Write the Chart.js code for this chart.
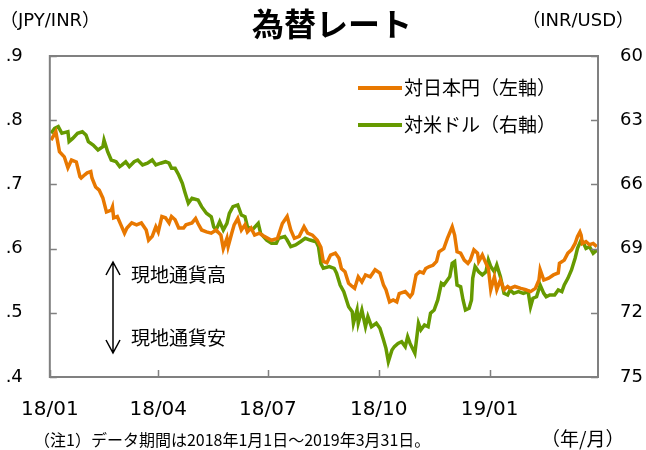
<!DOCTYPE html>
<html><head><meta charset="utf-8">
<script src="https://cdn.jsdelivr.net/npm/chart.js@4.4.1/dist/chart.umd.min.js"></script>
<style>html,body{margin:0;padding:0;background:#fff;overflow:hidden}#wrap{position:relative;width:646px;height:450px}</style>
</head><body><div id="wrap"><canvas id="c" width="646" height="450"></canvas></div>
<script>
// ---- data ----
const jpyDates = ['2018-01-02','2018-01-06','2018-01-09','2018-01-13','2018-01-16','2018-01-19','2018-01-23','2018-01-26','2018-01-27','2018-01-30','2018-02-01','2018-02-04','2018-02-05','2018-02-08','2018-02-11','2018-02-14','2018-02-17','2018-02-21','2018-02-22','2018-02-23','2018-02-26','2018-03-01','2018-03-04','2018-03-06','2018-03-10','2018-03-14','2018-03-18','2018-03-22','2018-03-24','2018-03-27','2018-03-30','2018-04-01','2018-04-04','2018-04-07','2018-04-10','2018-04-12','2018-04-15','2018-04-18','2018-04-22','2018-04-24','2018-04-29','2018-05-02','2018-05-04','2018-05-07','2018-05-11','2018-05-15','2018-05-19','2018-05-23','2018-05-25','2018-05-28','2018-05-29','2018-06-01','2018-06-03','2018-06-06','2018-06-09','2018-06-12','2018-06-14','2018-06-17','2018-06-20','2018-06-24','2018-06-28','2018-07-04','2018-07-09','2018-07-13','2018-07-17','2018-07-20','2018-07-23','2018-07-27','2018-07-31','2018-08-03','2018-08-07','2018-08-11','2018-08-14','2018-08-16','2018-08-19','2018-08-22','2018-08-26','2018-08-29','2018-08-31','2018-09-03','2018-09-06','2018-09-09','2018-09-11','2018-09-14','2018-09-17','2018-09-20','2018-09-24','2018-09-28','2018-10-02','2018-10-05','2018-10-07','2018-10-10','2018-10-13','2018-10-16','2018-10-18','2018-10-23','2018-10-27','2018-10-29','2018-11-01','2018-11-04','2018-11-07','2018-11-09','2018-11-12','2018-11-15','2018-11-18','2018-11-20','2018-11-24','2018-11-27','2018-12-01','2018-12-03','2018-12-05','2018-12-08','2018-12-11','2018-12-14','2018-12-16','2018-12-19','2018-12-22','2018-12-23','2018-12-26','2018-12-29','2018-12-31','2019-01-02','2019-01-05','2019-01-07','2019-01-10','2019-01-13','2019-01-16','2019-01-18','2019-01-22','2019-01-27','2019-01-31','2019-02-04','2019-02-08','2019-02-11','2019-02-12','2019-02-15','2019-02-19','2019-02-23','2019-02-27','2019-02-28','2019-03-04','2019-03-07','2019-03-10','2019-03-13','2019-03-15','2019-03-17','2019-03-18','2019-03-19','2019-03-22','2019-03-25','2019-03-28','2019-03-31'];
const jpyValues = [1.769,1.782,1.751,1.743,1.726,1.738,1.735,1.712,1.710,1.715,1.718,1.720,1.710,1.696,1.691,1.679,1.657,1.660,1.665,1.648,1.650,1.637,1.624,1.632,1.640,1.637,1.640,1.629,1.613,1.619,1.634,1.626,1.650,1.648,1.640,1.650,1.645,1.632,1.632,1.637,1.640,1.647,1.639,1.629,1.626,1.624,1.629,1.621,1.600,1.616,1.603,1.624,1.637,1.647,1.629,1.637,1.626,1.632,1.621,1.624,1.619,1.613,1.616,1.639,1.650,1.629,1.616,1.619,1.634,1.624,1.621,1.613,1.602,1.580,1.578,1.590,1.593,1.585,1.569,1.564,1.546,1.541,1.538,1.556,1.548,1.559,1.556,1.567,1.562,1.543,1.536,1.517,1.520,1.517,1.530,1.533,1.525,1.530,1.559,1.564,1.562,1.569,1.572,1.574,1.580,1.595,1.600,1.616,1.634,1.621,1.595,1.593,1.582,1.577,1.582,1.598,1.593,1.580,1.590,1.577,1.569,1.536,1.556,1.536,1.551,1.536,1.541,1.538,1.541,1.538,1.536,1.533,1.538,1.551,1.567,1.551,1.554,1.559,1.562,1.577,1.582,1.593,1.598,1.608,1.619,1.626,1.621,1.608,1.611,1.606,1.608,1.603];
const usdDates = ['2018-01-02','2018-01-05','2018-01-08','2018-01-11','2018-01-13','2018-01-16','2018-01-17','2018-01-20','2018-01-24','2018-01-28','2018-01-31','2018-02-02','2018-02-06','2018-02-10','2018-02-14','2018-02-15','2018-02-18','2018-02-21','2018-02-25','2018-02-28','2018-03-02','2018-03-05','2018-03-08','2018-03-12','2018-03-15','2018-03-19','2018-03-23','2018-03-27','2018-03-30','2018-04-03','2018-04-07','2018-04-10','2018-04-12','2018-04-15','2018-04-18','2018-04-21','2018-04-23','2018-04-26','2018-04-29','2018-05-04','2018-05-07','2018-05-11','2018-05-15','2018-05-17','2018-05-19','2018-05-22','2018-05-25','2018-05-28','2018-05-30','2018-06-02','2018-06-06','2018-06-09','2018-06-12','2018-06-14','2018-06-18','2018-06-23','2018-06-25','2018-06-30','2018-07-04','2018-07-08','2018-07-10','2018-07-15','2018-07-17','2018-07-20','2018-07-24','2018-07-28','2018-08-01','2018-08-05','2018-08-10','2018-08-12','2018-08-14','2018-08-16','2018-08-21','2018-08-25','2018-08-27','2018-08-30','2018-09-02','2018-09-06','2018-09-09','2018-09-10','2018-09-13','2018-09-14','2018-09-17','2018-09-20','2018-09-22','2018-09-25','2018-09-29','2018-10-02','2018-10-05','2018-10-07','2018-10-09','2018-10-12','2018-10-14','2018-10-17','2018-10-20','2018-10-23','2018-10-25','2018-10-27','2018-10-31','2018-11-03','2018-11-05','2018-11-08','2018-11-11','2018-11-13','2018-11-16','2018-11-19','2018-11-22','2018-11-24','2018-11-27','2018-11-29','2018-12-01','2018-12-03','2018-12-04','2018-12-05','2018-12-08','2018-12-10','2018-12-12','2018-12-15','2018-12-17','2018-12-18','2018-12-20','2018-12-23','2018-12-26','2018-12-29','2018-12-31','2019-01-02','2019-01-05','2019-01-07','2019-01-10','2019-01-13','2019-01-16','2019-01-18','2019-01-21','2019-01-25','2019-01-29','2019-02-02','2019-02-04','2019-02-06','2019-02-09','2019-02-12','2019-02-15','2019-02-17','2019-02-20','2019-02-24','2019-02-27','2019-03-02','2019-03-04','2019-03-07','2019-03-10','2019-03-13','2019-03-15','2019-03-18','2019-03-20','2019-03-22','2019-03-25','2019-03-28','2019-03-31'];
const usdValues = [63.61,63.38,63.30,63.61,63.58,63.54,64.00,63.85,63.61,63.54,63.69,64.00,64.16,64.39,64.24,63.93,64.47,64.86,64.94,65.17,65.09,64.94,65.17,64.94,64.86,65.09,65.01,64.86,65.09,65.01,64.94,65.01,65.25,65.25,65.56,65.95,66.34,66.88,66.65,66.73,67.04,67.35,67.51,67.98,68.13,67.74,68.13,67.82,67.35,67.04,66.96,67.43,67.51,67.98,68.13,67.82,68.29,68.60,68.75,68.75,68.52,68.44,68.60,68.91,68.83,68.68,68.52,68.60,68.68,68.91,69.70,69.92,69.84,69.92,70.15,70.70,71.01,71.72,71.95,72.49,71.87,72.49,71.87,72.65,72.18,72.65,72.49,72.72,73.27,73.66,74.28,73.74,73.58,73.43,73.35,73.58,73.12,73.43,73.89,72.49,72.80,72.57,72.65,72.02,71.87,71.40,70.62,70.70,70.47,70.31,69.69,69.61,70.15,70.70,70.78,71.40,71.87,71.79,71.40,70.39,69.84,70.08,70.23,70.08,69.53,69.84,70.08,69.77,70.31,71.09,71.17,70.93,71.09,71.01,71.09,71.01,71.72,71.32,71.25,70.70,71.09,71.25,71.17,71.17,70.93,71.01,70.70,70.39,70.00,69.45,68.99,68.60,68.75,68.99,68.91,69.22,69.07];
const seriesNames = ['対日本円（左軸）','対米ドル（右軸）'];
const xTickDates = ['2018-01-01','2018-04-01','2018-07-01','2018-10-01','2019-01-01'];
const xTickLabels = ['18/01','18/04','18/07','18/10','19/01'];
const startDate = '2018-01-01', endDate = '2019-04-01';
const leftRange = [1.4, 1.9, 0.1];
const rightRange = [60, 75, 3];

// ---- helpers ----
function dayOf(s){const [y,m,d]=s.split('-').map(Number);const [y0,m0,d0]=startDate.split('-').map(Number);return (Date.UTC(y,m-1,d)-Date.UTC(y0,m0-1,d0))/86400000;}
const ORANGE='#E87800', GREEN='#669A00', AXIS='#808080';
const FONT_LAT='"DejaVu Sans","Noto Sans CJK JP",sans-serif';
const FONT_JP='"Noto Sans CJK JP","DejaVu Sans",sans-serif';

const deco = {
  id:'deco',
  afterDraw(chart){
    const {ctx, chartArea:a, scales} = chart;
    ctx.save();
    // frame
    ctx.strokeStyle=AXIS; ctx.lineWidth=2;
    ctx.strokeRect(a.left, a.top, a.right-a.left, a.bottom-a.top);
    // inward ticks
    ctx.lineWidth=1.5; ctx.beginPath();
    scales.y.ticks.forEach(t=>{const p=Math.round(scales.y.getPixelForValue(t.value))+0.5;ctx.moveTo(a.left,p);ctx.lineTo(a.left+7,p);});
    scales.y2.ticks.forEach(t=>{const p=Math.round(scales.y2.getPixelForValue(t.value))+0.5;ctx.moveTo(a.right,p);ctx.lineTo(a.right-7,p);});
    scales.x.ticks.forEach(t=>{const p=Math.round(scales.x.getPixelForValue(t.value))+0.5;ctx.moveTo(p,a.bottom);ctx.lineTo(p,a.bottom-7);});
    ctx.stroke();
    // title
    ctx.fillStyle='#000'; ctx.textBaseline='middle';
    ctx.font='bold 32px '+FONT_JP; ctx.textAlign='center';
    ctx.fillText('為替レート', 332, 24);
    // unit labels
    ctx.font='18px '+FONT_LAT; ctx.textAlign='left';
    ctx.fillText('（JPY/INR）', 0, 21);
    ctx.textAlign='right';
    ctx.fillText('（INR/USD）', 634, 21);
    // legend
    ctx.textAlign='left'; ctx.font='19px '+FONT_JP;
    chart.data.datasets.forEach((ds,i)=>{
      const y = 88 + i*37;
      ctx.strokeStyle=ds.borderColor; ctx.lineWidth=4; ctx.lineCap='butt';
      ctx.beginPath(); ctx.moveTo(358,y); ctx.lineTo(402,y); ctx.stroke();
      ctx.fillStyle='#000'; ctx.fillText(ds.label, 404, y);
    });
    // arrow annotation
    ctx.strokeStyle='#000'; ctx.lineWidth=1.5;
    ctx.beginPath();
    ctx.moveTo(113,262); ctx.lineTo(113,353);
    ctx.moveTo(106,275); ctx.lineTo(113,262); ctx.lineTo(120,275);
    ctx.moveTo(106,340); ctx.lineTo(113,353); ctx.lineTo(120,340);
    ctx.stroke();
    ctx.fillStyle='#000'; ctx.font='19px '+FONT_JP;
    ctx.fillText('現地通貨高', 131, 275);
    ctx.fillText('現地通貨安', 131, 338);
    // footnote
    ctx.font='16px '+FONT_JP;
    ctx.fillText('（注1）データ期間は2018年1月1日～2019年3月31日。', 34, 440);
    ctx.font='19px '+FONT_JP;
    ctx.fillText('（年/月）', 541, 439);
    ctx.restore();
  }
};

new Chart(document.getElementById('c'), {
  type:'line',
  data:{datasets:[
    {label:seriesNames[0], data:jpyDates.map((d,i)=>({x:dayOf(d),y:jpyValues[i]})), borderColor:ORANGE, yAxisID:'y', borderWidth:3.5, pointRadius:0, tension:0, fill:false},
    {label:seriesNames[1], data:usdDates.map((d,i)=>({x:dayOf(d),y:usdValues[i]})), borderColor:GREEN, yAxisID:'y2', borderWidth:3.5, pointRadius:0, tension:0, fill:false}
  ]},
  options:{
    responsive:false, animation:false, devicePixelRatio:1,
    layout:{padding:{top:56,left:0,right:0,bottom:0}},
    plugins:{legend:{display:false}, title:{display:false}, tooltip:{enabled:false}},
    scales:{
      x:{type:'linear', min:0, max:dayOf(endDate),
        grid:{display:false, drawTicks:false}, border:{display:false},
        afterBuildTicks:s=>{s.ticks=xTickDates.map(d=>({value:dayOf(d)}));},
        afterFit:s=>{s.height=73;},
        ticks:{autoSkip:false, maxRotation:0, padding:21, color:'#000', font:{size:20, family:FONT_LAT},
          callback:(v,i)=>xTickLabels[i]}},
      y:{position:'left', min:leftRange[0], max:leftRange[1],
        grid:{display:false, drawTicks:false}, border:{display:false},
        afterFit:s=>{s.width=45;},
        ticks:{stepSize:leftRange[2], padding:27, color:'#000', font:{size:18, family:FONT_LAT},
          callback:v=>Number(v).toFixed(1)}},
      y2:{position:'right', min:rightRange[0], max:rightRange[1], reverse:true,
        grid:{display:false, drawTicks:false}, border:{display:false},
        afterFit:s=>{s.width=48;},
        ticks:{stepSize:rightRange[2], padding:22, color:'#000', font:{size:18, family:FONT_LAT}}}
    }
  },
  plugins:[deco]
});
</script></body></html>
